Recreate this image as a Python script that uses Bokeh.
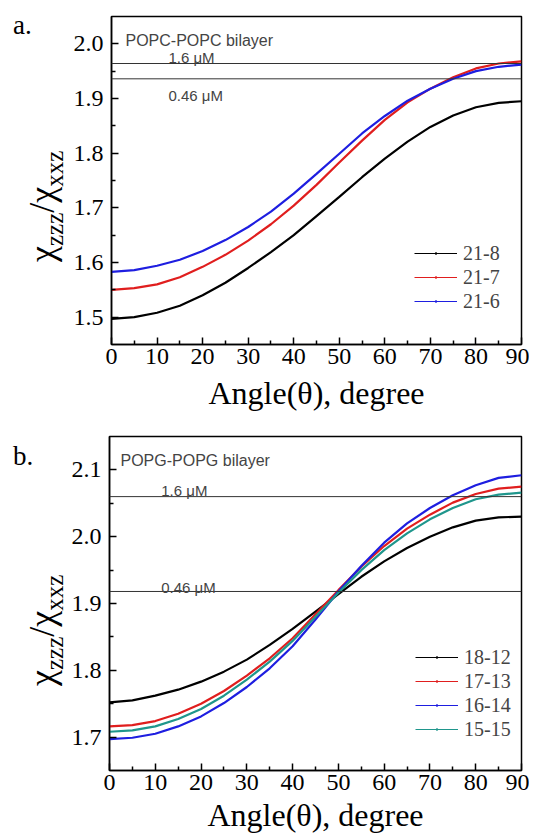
from bokeh.plotting import figure
from bokeh.layouts import column, row
from bokeh.models import (Range1d, FixedTicker, PrintfTickFormatter, Span, Label,
                          Legend, LegendItem, Div)
from bokeh.embed import file_html
from bokeh.resources import INLINE

# ---------------- data ----------------
angle = [0, 5, 10, 15, 20, 25, 30, 35, 40, 45, 50, 55, 60, 65, 70, 75, 80, 85, 90]

# panel a: POPC-POPC bilayer
a_labels = ["21-8", "21-7", "21-6"]
a_21_8 = [1.497, 1.500, 1.508, 1.521, 1.540, 1.563, 1.590, 1.619, 1.650, 1.685,
          1.720, 1.756, 1.790, 1.821, 1.848, 1.869, 1.884, 1.892, 1.895]
a_21_7 = [1.550, 1.553, 1.560, 1.573, 1.592, 1.614, 1.640, 1.670, 1.704, 1.742,
          1.783, 1.823, 1.861, 1.893, 1.918, 1.939, 1.955, 1.964, 1.968]
a_21_6 = [1.583, 1.586, 1.594, 1.605, 1.621, 1.641, 1.665, 1.693, 1.726, 1.762,
          1.799, 1.836, 1.868, 1.896, 1.918, 1.936, 1.950, 1.958, 1.962]
a_conc_labels = ["1.6 μM", "0.46 μM"]
a_conc_values = [1.964, 1.936]

# panel b: POPG-POPG bilayer
b_labels = ["18-12", "17-13", "16-14", "15-15"]
b_18_12 = [1.752, 1.755, 1.762, 1.771, 1.783, 1.798, 1.816, 1.838, 1.862, 1.888,
           1.914, 1.940, 1.963, 1.983, 2.000, 2.014, 2.024, 2.029, 2.030]
b_17_13 = [1.716, 1.718, 1.724, 1.735, 1.750, 1.769, 1.792, 1.818, 1.848, 1.884,
           1.920, 1.955, 1.986, 2.012, 2.033, 2.051, 2.064, 2.072, 2.075]
b_16_14 = [1.697, 1.699, 1.705, 1.716, 1.731, 1.751, 1.775, 1.803, 1.836, 1.876,
           1.918, 1.956, 1.991, 2.020, 2.043, 2.062, 2.077, 2.088, 2.092]
b_15_15 = [1.708, 1.710, 1.716, 1.727, 1.742, 1.762, 1.786, 1.813, 1.844, 1.880,
           1.916, 1.950, 1.980, 2.005, 2.026, 2.043, 2.056, 2.063, 2.066]
b_conc_labels = ["1.6 μM", "0.46 μM"]
b_conc_values = [2.060, 1.918]

x_ticks = [0, 10, 20, 30, 40, 50, 60, 70, 80, 90]
x_minor = [5, 15, 25, 35, 45, 55, 65, 75, 85]
a_y_ticks = [1.5, 1.6, 1.7, 1.8, 1.9, 2.0]
a_y_minor = [1.55, 1.65, 1.75, 1.85, 1.95]
b_y_ticks = [1.7, 1.8, 1.9, 2.0, 2.1]
b_y_minor = [1.75, 1.85, 1.95, 2.05]

x_title = "Angle(θ), degree"
panel_tags = ["a.", "b."]
panel_titles = ["POPC-POPC bilayer", "POPG-POPG bilayer"]

SERIF = "Liberation Serif"
SANS = "Liberation Sans"
BLACK, RED, BLUE, TEAL = "#000000", "#e01e1e", "#1e1ee0", "#1f968c"


def make_panel(width, height, ml, mr, mt, mb, yr, yt, ym, label_standoff):
    p = figure(width=width, height=height, output_backend="svg", toolbar_location=None,
               x_range=Range1d(0, 90), y_range=Range1d(*yr))
    p.min_border_left, p.min_border_right = ml, mr
    p.min_border_top, p.min_border_bottom = mt, mb
    p.background_fill_color = "white"
    p.border_fill_color = "white"
    p.outline_line_color = "black"
    p.outline_line_width = 1.5
    p.outline_line_alpha = 1.0
    p.grid.visible = False
    p.xaxis.ticker = FixedTicker(ticks=x_ticks, minor_ticks=x_minor)
    p.yaxis.ticker = FixedTicker(ticks=yt, minor_ticks=ym)
    p.xaxis.formatter = PrintfTickFormatter(format="%d")
    p.yaxis.formatter = PrintfTickFormatter(format="%.1f")
    for ax in (p.xaxis, p.yaxis):
        ax.axis_line_width = 1.5
        ax.axis_line_color = "black"
        ax.major_tick_in = 7
        ax.major_tick_out = 0
        ax.minor_tick_in = 4
        ax.minor_tick_out = 0
        ax.major_tick_line_width = 1.5
        ax.minor_tick_line_width = 1.5
        ax.major_label_text_font = SERIF
        ax.major_label_text_font_size = "24px"
        ax.major_label_text_color = "black"
    p.xaxis.major_label_standoff = 4
    p.yaxis.major_label_standoff = 8
    p.xaxis.axis_label = x_title
    p.xaxis.axis_label_text_font = SERIF
    p.xaxis.axis_label_text_font_size = "32px"
    p.xaxis.axis_label_text_font_style = "normal"
    p.xaxis.axis_label_text_color = "black"
    p.xaxis.axis_label_standoff = label_standoff
    return p


def add_curves(p, series, labels, colors, legend_loc):
    items = []
    for ys, lab, col in zip(series, labels, colors):
        p.line(angle, ys, line_color=col, line_width=2.2)
        thin = p.line(angle, ys, line_color=col, line_width=1, visible=False)
        dot = p.scatter(angle, ys, marker="dot", size=3, line_color=col,
                        fill_color=col, line_width=2, visible=False)
        items.append(LegendItem(label=lab, renderers=[thin, dot]))
    leg = Legend(items=items, location=legend_loc, border_line_color=None,
                 background_fill_alpha=0, padding=0, margin=0, spacing=0,
                 glyph_width=43, glyph_height=24, label_height=24, label_standoff=6,
                 label_text_font=SERIF, label_text_font_size="20px")
    p.add_layout(leg)


def add_conc(p, labels, values, xpos, offsets):
    for lab, v, off in zip(labels, values, offsets):
        p.add_layout(Span(location=v, dimension="width", line_color="#333333", line_width=1))
        p.add_layout(Label(x=xpos, y=v, y_offset=off, text=lab, text_font=SANS,
                           text_font_size="15px", text_baseline="alphabetic"))


def side_div(width, height, tag, tag_top, label_bottom, label_left):
    sub = "font-size:25px;position:relative;top:9px"
    html = (
        f'<div style="position:relative;width:{width}px;height:{height}px;">'
        f'<div style="position:absolute;left:13px;top:{tag_top}px;'
        f'font-family:\'{SERIF}\';font-size:27px;line-height:1;color:black;">{tag}</div>'
        f'<div style="position:absolute;left:{label_left}px;top:{label_bottom}px;'
        f'transform-origin:left top;transform:rotate(-90deg);white-space:nowrap;'
        f'font-family:\'{SERIF}\';font-size:36px;line-height:1;color:black;">'
        f'χ<span style="{sub}">zzz</span>/χ<span style="{sub}">xxz</span></div>'
        f'</div>'
    )
    return Div(text=html, width=width, height=height, margin=0)


# ---------------- panel a ----------------
pa = make_panel(461, 416, 43, 8, 16, 72, (1.45, 2.05), a_y_ticks, a_y_minor, 8)
add_curves(pa, [a_21_8, a_21_7, a_21_6], a_labels, [BLACK, RED, BLUE], (303, 31))
add_conc(pa, a_conc_labels, a_conc_values, 12.5, [6, -17])
pa.add_layout(Label(x=0, y=2.05, x_offset=14, y_offset=-24, text=panel_titles[0],
                    text_font=SANS, text_font_size="16px", text_baseline="alphabetic"))
da = side_div(68, 416, panel_tags[0], 12, 262, 24)

# ---------------- panel b ----------------
pb = make_panel(461, 422, 39, 8, 20, 68, (1.65, 2.15), b_y_ticks, b_y_minor, 4)
add_curves(pb, [b_18_12, b_17_13, b_16_14, b_15_15], b_labels,
           [BLACK, RED, BLUE, TEAL], (306, 29))
add_conc(pb, b_conc_labels, b_conc_values, 11.3, [6, 4])
pb.add_layout(Label(x=0, y=2.15, x_offset=11, y_offset=-24, text=panel_titles[1],
                    text_font=SANS, text_font_size="16px", text_baseline="alphabetic"))
db = side_div(68, 422, panel_tags[1], 27, 270, 24)

layout = column(row(da, pa, spacing=0), row(db, pb, spacing=0), spacing=0)
open("out.html", "w").write(file_html(layout, INLINE))
